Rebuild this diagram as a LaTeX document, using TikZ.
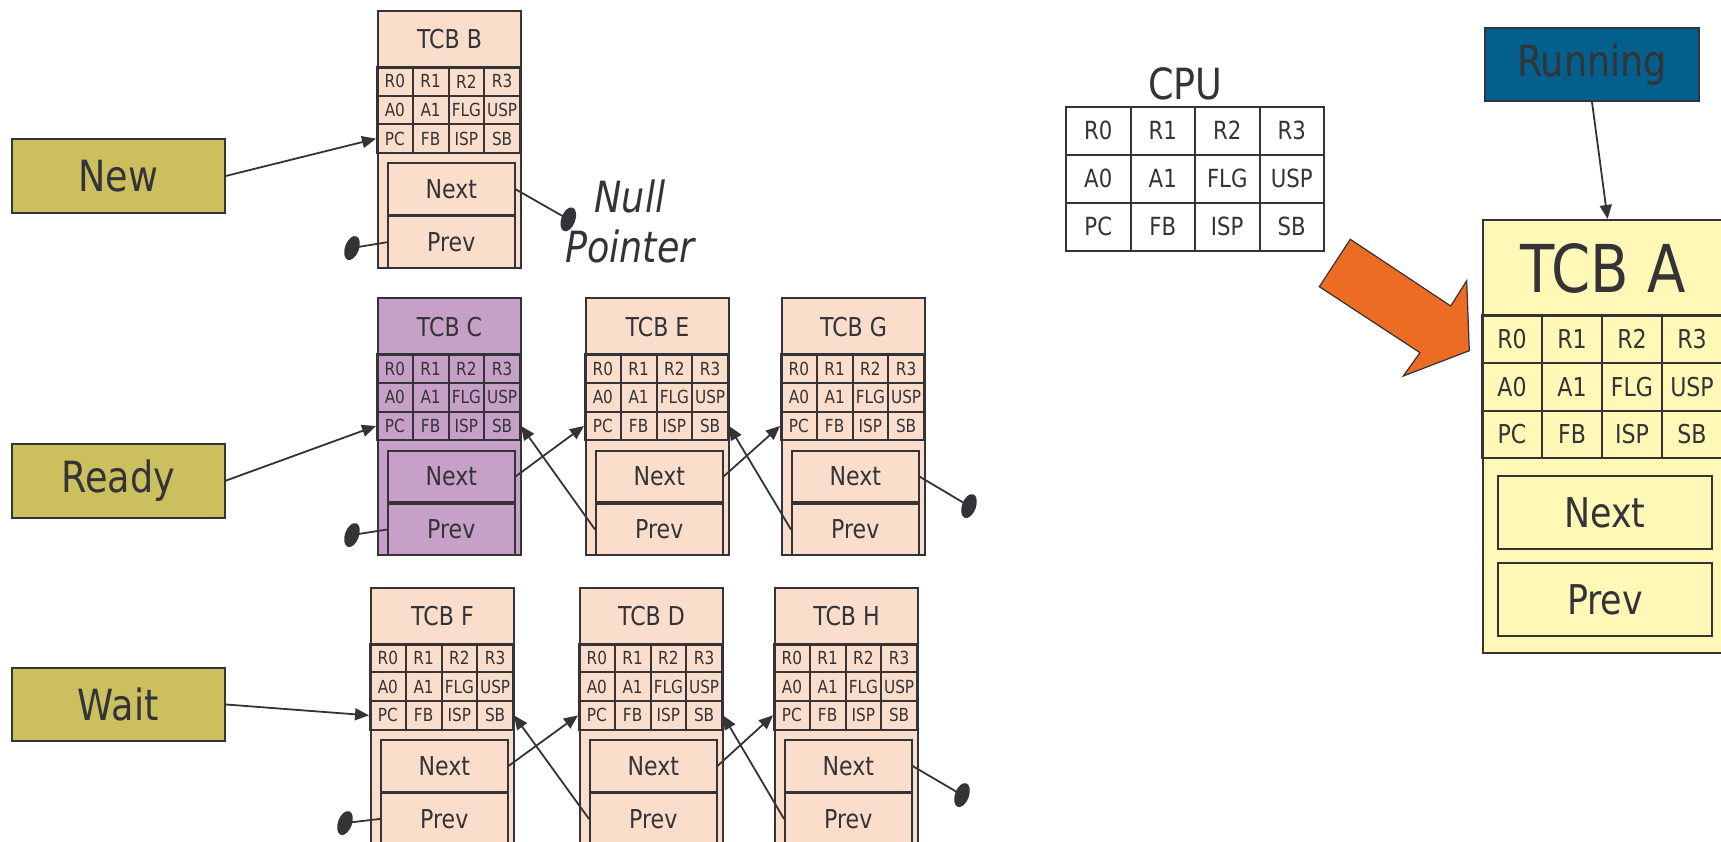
\documentclass[tikz,border=0pt]{standalone}
\usepackage{fontspec}
\setmainfont{DejaVu Sans}[FakeStretch=0.85]
\usetikzlibrary{arrows.meta}
\definecolor{ink}{RGB}{51,51,56}
\definecolor{peach}{RGB}{250,221,203}
\definecolor{lilac}{RGB}{199,160,200}
\definecolor{olive}{RGB}{204,191,94}
\definecolor{runblue}{RGB}{3,96,140}
\definecolor{paleyel}{RGB}{255,248,183}
\definecolor{orng}{RGB}{237,108,35}
\newcommand\fs[1]{\fontsize{#1}{#1}\selectfont}
\tikzset{
  box/.style={draw=ink, line width=2pt, inner sep=0pt, text=ink},
  label box/.style={box, fill=olive, minimum width=212.5pt, minimum height=73.5pt, font=\fs{43}},
  conn/.style={draw=ink, line width=1.8pt, -{Triangle[length=14pt,width=12pt]}},
  nullline/.style={draw=ink, line width=1.8pt},
}
\newcommand\smalltcb[5]{%
  \begin{scope}[shift={(#2,#3)}]
    \node[box, fill=#5, anchor=north west, minimum width=143pt, minimum height=257pt] (#1) at (0,0) {};
    \node[box, anchor=north west, minimum width=143pt, minimum height=57pt, font=\fs{26}] (#1-t) at (0,0) {#4};
    \foreach \lab [count=\i from 0] in {R0,R1,R2,R3,A0,A1,FLG,USP,PC,FB,ISP,SB}{%
      \pgfmathtruncatemacro\cc{mod(\i,4)}%
      \pgfmathtruncatemacro\rr{div(\i,4)}%
      \node[box, minimum width=35.75pt, minimum height=28.67pt, font=\fs{18}] (#1-c\i) at ({17.875+35.75*\cc},{57+28.67*(\rr+0.5)}) {\lab};
    }
    \node[box, anchor=north west, minimum width=126.5pt, minimum height=51.5pt, font=\fs{26}] (#1-next) at (10,152.5) {Next};
    \node[box, anchor=north west, minimum width=126.5pt, minimum height=51.5pt, font=\fs{26}] (#1-prev) at (10,205.5) {Prev};
  \end{scope}}
\newcommand\nullptr[1]{\fill[ink, rotate around={-20:(#1)}] (#1) ellipse [x radius=7, y radius=12.5];}
\begin{document}
\begin{tikzpicture}[x=1pt, y=-1pt]
\useasboundingbox (0,0) rectangle (1721,842);
\clip (0,0) rectangle (1721,842);

% state labels
\node[label box, anchor=north west] (new) at (11,138.3) {New};
\node[label box, anchor=north west] (ready) at (11,443) {Ready};
\node[label box, anchor=north west] (wait) at (11,666.7) {Wait};
\node[box, fill=runblue, anchor=north west, minimum width=214pt, minimum height=73.3pt, font=\fs{43}] (run) at (1484,26.7) {Running};

% TCBs
\smalltcb{B}{377}{10}{TCB B}{peach}
\smalltcb{C}{377}{297.3}{TCB C}{lilac}
\smalltcb{E}{585}{297.3}{TCB E}{peach}
\smalltcb{G}{781}{297.3}{TCB G}{peach}
\smalltcb{F}{370}{586.7}{TCB F}{peach}
\smalltcb{D}{579}{586.7}{TCB D}{peach}
\smalltcb{H}{774}{586.7}{TCB H}{peach}

% Null pointer text
\node[anchor=base, text=ink, font=\fs{43}\itshape, inner sep=0] (nulltxt) at (630,212.7) {Null};
\node[anchor=base, text=ink, font=\fs{43}\itshape, inner sep=0] (ptrtxt) at (630,262.3) {Pointer};

% CPU
\node[text=ink, font=\fs{43}, inner sep=0] (cpu) at (1185.4,84) {CPU};
\begin{scope}[shift={(1066,106.7)}]
  \foreach \lab [count=\i from 0] in {R0,R1,R2,R3,A0,A1,FLG,USP,PC,FB,ISP,SB}{%
    \pgfmathtruncatemacro\cc{mod(\i,4)}%
    \pgfmathtruncatemacro\rr{div(\i,4)}%
    \node[box, minimum width=64.5pt, minimum height=48pt, font=\fs{25}] (cpu-c\i) at ({32.25+64.5*\cc},{48*(\rr+0.5)}) {\lab};
  }
\end{scope}

% TCB A
\begin{scope}[shift={(1482,219)}]
  \node[box, fill=paleyel, anchor=north west, minimum width=240pt, minimum height=432.7pt] (A) at (0,0) {};
  \node[box, anchor=north west, minimum width=240pt, minimum height=96pt, font=\fs{66}] (A-t) at (0,0) {TCB A};
  \foreach \lab [count=\i from 0] in {R0,R1,R2,R3,A0,A1,FLG,USP,PC,FB,ISP,SB}{%
    \pgfmathtruncatemacro\cc{mod(\i,4)}%
    \pgfmathtruncatemacro\rr{div(\i,4)}%
    \node[box, minimum width=60pt, minimum height=47.8pt, font=\fs{26}] (A-c\i) at ({30+60*\cc},{96+47.8*(\rr+0.5)}) {\lab};
  }
  \node[box, anchor=north west, minimum width=213.4pt, minimum height=73.3pt, font=\fs{41}] (A-next) at (15.3,256) {Next};
  \node[box, anchor=north west, minimum width=213.4pt, minimum height=72.7pt, font=\fs{41}] (A-prev) at (15.3,343.3) {Prev};
\end{scope}

% orange arrow
\filldraw[fill=orng, draw=ink, line width=1.2pt] (1350.3,239.3) -- (1319.3,286.7) -- (1420,352.7) -- (1403.3,376) -- (1469.3,350.7) -- (1466.7,280.7) -- (1450.7,306) -- cycle;

% connectors
\draw[conn] (new.east) -- (B-c8.west);
\draw[conn] (ready.east) -- (C-c8.west);
\draw[conn] (wait.east) -- (F-c8.west);
\draw[conn] (run.south) -- ([xshift=4.6pt]A-t.north);

\draw[conn] (C-next.east) -- (E-c8.west);
\draw[conn] (E-prev.west) -- (C-c11.east);
\draw[conn] (E-next.east) -- (G-c8.west);
\draw[conn] (G-prev.west) -- (E-c11.east);

\draw[conn] (F-next.east) -- (D-c8.west);
\draw[conn] (D-prev.west) -- (F-c11.east);
\draw[conn] (D-next.east) -- (H-c8.west);
\draw[conn] (H-prev.west) -- (D-c11.east);

% null pointers
\coordinate (nBn) at (568.3,219.3);
\coordinate (nBp) at (352,248);
\coordinate (nCp) at (352,535);
\coordinate (nGn) at (969,506);
\coordinate (nFp) at (345,823);
\coordinate (nHn) at (962,795);
\draw[nullline] (B-next.east) -- (nBn);
\draw[nullline] (B-prev.west) -- (nBp);
\draw[nullline] (C-prev.west) -- (nCp);
\draw[nullline] (G-next.east) -- (nGn);
\draw[nullline] (F-prev.west) -- (nFp);
\draw[nullline] (H-next.east) -- (nHn);
\nullptr{nBn}\nullptr{nBp}\nullptr{nCp}\nullptr{nGn}\nullptr{nFp}\nullptr{nHn}
\end{tikzpicture}
\end{document}
